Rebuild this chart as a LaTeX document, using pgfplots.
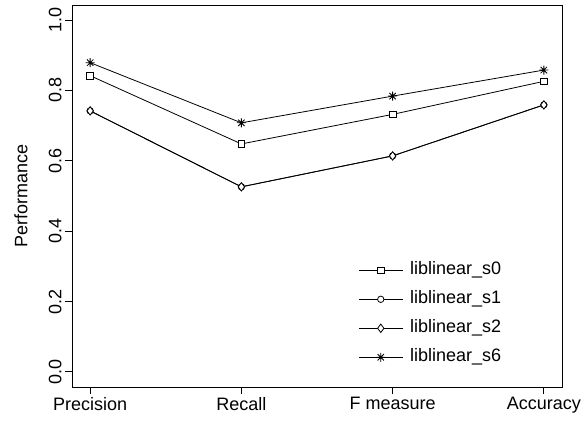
\documentclass[border=0pt]{standalone}
\usepackage{pgfplots}
\pgfplotsset{compat=1.18}
\usepackage{fontspec}
\setmainfont{Liberation Sans}
\newcommand{\bigf}{\fontsize{18bp}{21bp}\selectfont}
\pgfdeclareplotmark{rast}{%
  \pgfpathmoveto{\pgfqpoint{-\pgfplotmarksize}{0pt}}\pgfpathlineto{\pgfqpoint{\pgfplotmarksize}{0pt}}%
  \pgfpathmoveto{\pgfqpoint{0pt}{-\pgfplotmarksize}}\pgfpathlineto{\pgfqpoint{0pt}{\pgfplotmarksize}}%
  \pgfpathmoveto{\pgfqpoint{-0.7071\pgfplotmarksize}{-0.7071\pgfplotmarksize}}\pgfpathlineto{\pgfqpoint{0.7071\pgfplotmarksize}{0.7071\pgfplotmarksize}}%
  \pgfpathmoveto{\pgfqpoint{-0.7071\pgfplotmarksize}{0.7071\pgfplotmarksize}}\pgfpathlineto{\pgfqpoint{0.7071\pgfplotmarksize}{-0.7071\pgfplotmarksize}}%
  \pgfusepathqstroke}
\begin{document}
\begin{tikzpicture}
\path[use as bounding box] (0,0) rectangle (588bp,421bp);
\begin{axis}[
  at={(72bp,34bp)}, anchor=south west,
  scale only axis, width=490bp, height=382bp,
  xmin=-0.12, xmax=3.12, ymin=-0.043, ymax=1.043,
  xtick={0,1,2,3}, xticklabels={Precision,Recall,F measure,Accuracy},
  ytick={0,0.2,0.4,0.6,0.8,1.0},
  yticklabel style={/pgf/number format/fixed,/pgf/number format/fixed zerofill,/pgf/number format/precision=1, rotate=90, anchor=south},
  /pgf/number format/assume math mode=true,
  every tick label/.append style={font=\bigf},
  label style={font=\bigf},
  tick align=outside, xtick pos=left, ytick pos=left,
  major tick length=7bp,
  axis line style={line width=0.9bp},
  every tick/.style={line width=0.9bp, black},
  ylabel={Performance},
  ylabel style={at={(axis description cs:-0.104,0.5)}, anchor=center},
  legend cell align=left,
  legend style={draw=none, fill=none, at={(axis description cs:0.584,0.344)}, anchor=north west, inner sep=0pt, row sep=0pt, column sep=5bp,
    font=\bigf, nodes={inner ysep=6bp, text height=13bp, text depth=4bp}},
  legend image code/.code={\draw[#1, mark repeat=2, mark phase=2] plot coordinates {(0bp,0bp) (22bp,0bp) (44bp,0bp)};},
  every axis plot/.append style={black, line width=0.8bp, mark options={solid, fill=white, line width=0.8bp}},
]
\addplot[mark=square*, mark size=3.3bp] coordinates {(0,0.842) (1,0.648) (2,0.732) (3,0.826)};
\addlegendentry{liblinear\_s0}
\addplot[mark=*, mark size=3.2bp] coordinates {(0,0.742) (1,0.526) (2,0.614) (3,0.759)};
\addlegendentry{liblinear\_s1}
\addplot[mark=diamond*, mark size=4.2bp] coordinates {(0,0.742) (1,0.526) (2,0.614) (3,0.759)};
\addlegendentry{liblinear\_s2}
\addplot[mark=rast, mark size=4.5bp] coordinates {(0,0.879) (1,0.708) (2,0.784) (3,0.858)};
\addlegendentry{liblinear\_s6}
\end{axis}
\end{tikzpicture}
\end{document}
